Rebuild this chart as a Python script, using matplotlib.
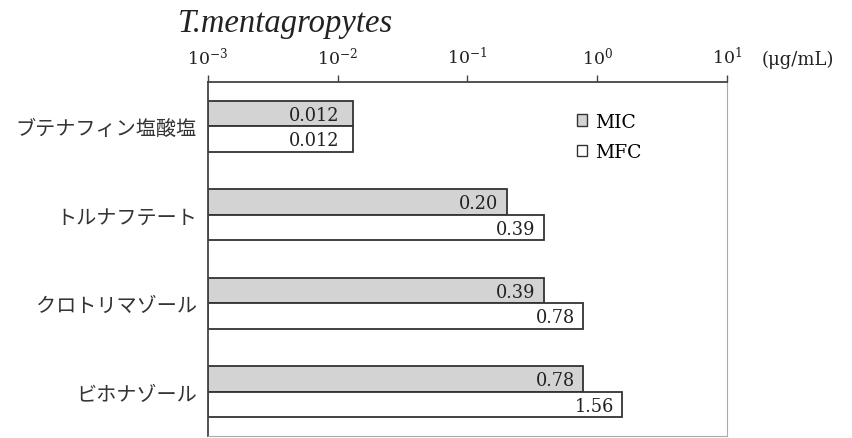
import numpy as np
import matplotlib
matplotlib.use("Agg")
import matplotlib.pyplot as plt
from matplotlib.patches import Patch

# data
drugs = ["ブテナフィン塩酸塩", "トルナフテート", "クロトリマゾール", "ビホナゾール"]
mic = [0.012, 0.20, 0.39, 0.78]
mfc = [0.012, 0.39, 0.78, 1.56]
mic_labels = ["0.012", "0.20", "0.39", "0.78"]
mfc_labels = ["0.012", "0.39", "0.78", "1.56"]
tick_vals = [1e-3, 1e-2, 1e-1, 1e0, 1e1]
tick_labels = [r"$10^{-3}$", r"$10^{-2}$", r"$10^{-1}$", r"$10^{0}$", r"$10^{1}$"]

plt.rcParams["mathtext.fontset"] = "dejavuserif"
plt.rcParams["font.family"] = ["DejaVu Serif"]

fig = plt.figure(figsize=(8.53, 4.39), dpi=100)
ax = fig.add_axes([208 / 853, 1 - 437 / 439, (727 - 208) / 853, (437 - 83) / 439])

y = np.arange(len(drugs))
h = 0.29
ax.barh(y - h / 2, mic, height=h, left=1e-3, color="#d3d3d3",
        edgecolor="#333333", linewidth=1.3, label="MIC")
ax.barh(y + h / 2, mfc, height=h, left=1e-3, color="white",
        edgecolor="#333333", linewidth=1.3, label="MFC")

for yi, v, s in zip(y, mic, mic_labels):
    ax.annotate(s, (v, yi - h / 2), xytext=(-6, -1), textcoords="offset points",
                ha="right", va="center", fontsize=12.8, color="#222222")
for yi, v, s in zip(y, mfc, mfc_labels):
    ax.annotate(s, (v, yi + h / 2), xytext=(-6, -1), textcoords="offset points",
                ha="right", va="center", fontsize=12.8, color="#222222")

ax.set_xscale("log")
ax.set_xlim(1e-3, 1e1)
ax.set_ylim(len(drugs) - 0.5, -0.5)

ax.xaxis.tick_top()
ax.set_xticks(tick_vals)
ax.set_xticklabels(tick_labels)
ax.xaxis.set_minor_locator(matplotlib.ticker.NullLocator())
ax.tick_params(axis="x", direction="out", length=5, width=1, color="#444444",
               labelsize=12.5, pad=5.5, labelcolor="#222222")

ax.set_yticks(y)
ax.set_yticklabels(drugs, family=["Noto Sans CJK JP", "DejaVu Sans"],
                   fontsize=14.5, color="#333333")
ax.tick_params(axis="y", length=0, pad=8)

ax.spines["top"].set_color("#444444")
ax.spines["left"].set_color("#444444")
ax.spines["top"].set_linewidth(1.3)
ax.spines["left"].set_linewidth(1.3)
ax.spines["right"].set_color("#aaaaaa")
ax.spines["bottom"].set_color("#aaaaaa")

handles = [Patch(facecolor="#d3d3d3", edgecolor="#333333", label="MIC"),
           Patch(facecolor="white", edgecolor="#333333", label="MFC")]
ax.legend(handles=handles, loc="upper left", bbox_to_anchor=(0.692, 0.94),
          frameon=False, fontsize=13.5, handlelength=0.55, handleheight=0.55,
          handletextpad=0.45, labelspacing=0.65, borderpad=0)

fig.text(178 / 853, 1 - 24 / 439, "T.mentagropytes", family="Liberation Serif",
         style="italic", fontsize=23.5, va="center", ha="left", color="#222222")
ax.annotate("(μg/mL)", (1e1, 1), xycoords=("data", "axes fraction"),
            xytext=(25, 17), textcoords="offset points", ha="left", va="center",
            fontsize=13, color="#222222")

fig.savefig("out.png", dpi=100)
